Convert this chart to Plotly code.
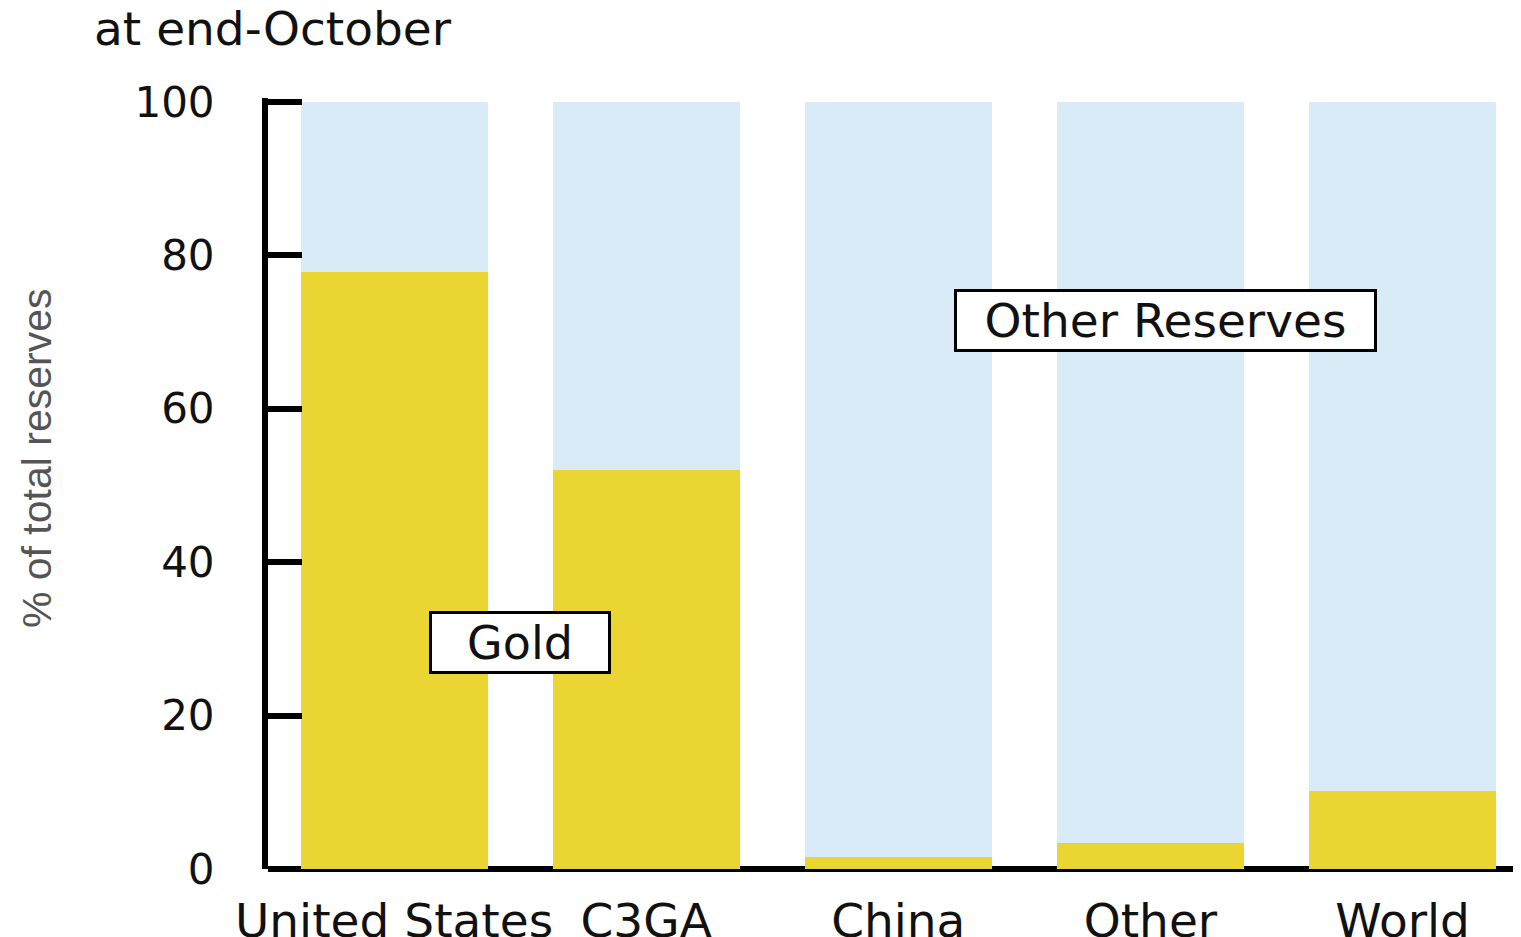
import plotly.graph_objects as go

categories = ["United States", "C3GA", "China", "Other", "World"]
gold = [77.8, 52.0, 1.6, 3.4, 10.2]
other_reserves = [100 - g for g in gold]
y_ticks = [0, 20, 40, 60, 80, 100]

GOLD = "#EAD532"
BLUE = "#DAEBF8"
FONT = "DejaVu Sans"

# page body adds an 8px offset; figure is sized to fit the 1521x937 window
W, H = 1513, 929
L = 260

fig = go.Figure()
fig.add_trace(go.Bar(x=categories, y=gold, name="Gold", marker=dict(color=GOLD, line=dict(width=0))))
fig.add_trace(go.Bar(x=categories, y=other_reserves, name="Other Reserves",
                     marker=dict(color=BLUE, line=dict(width=0))))

fig.update_layout(
    barmode="stack",
    bargap=0.258,
    width=W, height=H,
    margin=dict(l=L, r=0, t=90, b=68),
    plot_bgcolor="white", paper_bgcolor="white",
    showlegend=False,
    font=dict(family=FONT, color="#111"),
    title=dict(text="at end-October", x=86/W, xref="container", xanchor="left",
               y=0.996, yref="container", yanchor="top",
               font=dict(size=47, family=FONT, color="#111")),
)
fig.update_xaxes(
    range=[-0.5, 4.47],
    showline=False, showgrid=False, zeroline=False, ticks="",
    tickfont=dict(size=47, family=FONT, color="#111"),
    ticklabelstandoff=20, automargin=False,
)
fig.update_yaxes(
    range=[0, 100.5], tickvals=y_ticks, showgrid=False,
    showline=True, linewidth=6, linecolor="black",
    ticks="inside", ticklen=34, tickwidth=6, tickcolor="black",
    zeroline=True, zerolinewidth=6, zerolinecolor="black",
    tickfont=dict(size=42, family=FONT, color="#111"),
    ticklabelstandoff=39, automargin=False,
)

plot_w = W - L
fig.add_annotation(text="% of total reserves", xref="paper", yref="paper",
                   x=-231/plot_w, y=0.533, xanchor="center", yanchor="middle",
                   textangle=-90, showarrow=False,
                   font=dict(size=41, family="Liberation Sans Narrow, Liberation Sans", color="#555"))
fig.add_annotation(text="Gold", xref="x", yref="y", x=0.5, y=29.5, showarrow=False,
                   bgcolor="white", bordercolor="black", borderwidth=3, borderpad=0,
                   width=176, height=57, font=dict(size=46, family=FONT, color="#111"))
fig.add_annotation(text="Other Reserves", xref="x", yref="y", x=3.06, y=71.5, showarrow=False,
                   bgcolor="white", bordercolor="black", borderwidth=3, borderpad=0,
                   width=417, height=57, font=dict(size=47, family=FONT, color="#111"))

fig.write_html("out.html")
